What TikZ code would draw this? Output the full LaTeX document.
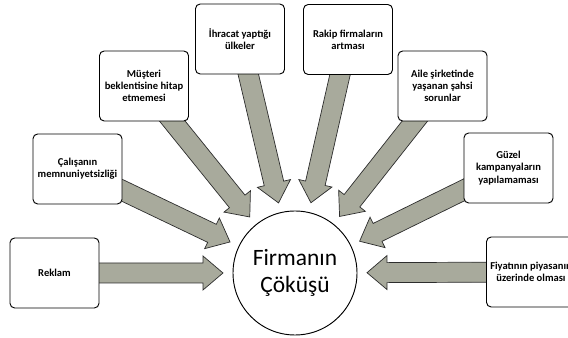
\documentclass[tikz,border=0pt]{standalone}
\usepackage{fontspec}
\setmainfont{Carlito}
\usetikzlibrary{calc, backgrounds}
\definecolor{ArrowGray}{RGB}{168, 170, 156}
\definecolor{EdgeGray}{RGB}{45, 45, 45}

% block arrow from a box towards the circle
\newcommand{\fatarrow}[1]{%
  \coordinate (#1-tip) at ($(firm)!2.16cm!(#1)$);
  \filldraw[fat] ($(#1)!0.3cm!90:(#1-tip)$)
    -- ($(#1-tip)!0.6cm!(#1)!0.3cm!-90:(#1)$)
    -- ($(#1-tip)!0.6cm!(#1)!0.51cm!-90:(#1)$)
    -- (#1-tip)
    -- ($(#1-tip)!0.6cm!(#1)!0.51cm!90:(#1)$)
    -- ($(#1-tip)!0.6cm!(#1)!0.3cm!90:(#1)$)
    -- ($(#1)!0.3cm!-90:(#1-tip)$) -- cycle;}

\begin{document}
\begin{tikzpicture}[
  x=0.3mm, y=0.3mm,
  box/.style={%
    rectangle, rounded corners=4pt,
    draw=black, line width=0.8pt, fill=white,
    font=\fontsize{9}{10.5}\selectfont\bfseries,
    minimum height=2.1cm, minimum width=2.67cm,
    align=center, inner sep=1pt},
  hub/.style={%
    circle, draw=black, line width=0.8pt, fill=white,
    minimum size=3.72cm, align=center, inner sep=0pt,
    font=\fontsize{20}{23}\selectfont},
  fat/.style={fill=ArrowGray, draw=EdgeGray, line width=0.6pt, line join=miter}
]
\useasboundingbox (0,0) rectangle (568,338);

\node[hub] (firm) at (295,65) {Firmanın\\Çöküşü};

\node[box] (rek)  at (54.5,65)   {Reklam};
\node[box] (cal)  at (77.5,169)  {Çalışanın\\memnuniyetsizliği};
\node[box] (mus)  at (144,252)   {Müşteri\\beklentisine hitap\\etmemesi};
\node[box] (ihr)  at (240,299)   {İhracat yaptığı\\ülkeler};
\node[box] (rak)  at (348,298.5) {Rakip firmaların\\artması};
\node[box] (aile) at (442.5,252) {Aile şirketinde\\yaşanan şahsi\\sorunlar};
\node[box] (guz)  at (508.5,170) {Güzel\\kampanyaların\\yapılamaması};
\node[box] (fiy)  at (531,66)    {Fiyatının piyasanın\\üzerinde olması};

\begin{pgfonlayer}{background}
\fatarrow{rek}
\fatarrow{cal}
\fatarrow{mus}
\fatarrow{ihr}
\fatarrow{rak}
\fatarrow{aile}
\fatarrow{guz}
\fatarrow{fiy}
\end{pgfonlayer}
\end{tikzpicture}
\end{document}
